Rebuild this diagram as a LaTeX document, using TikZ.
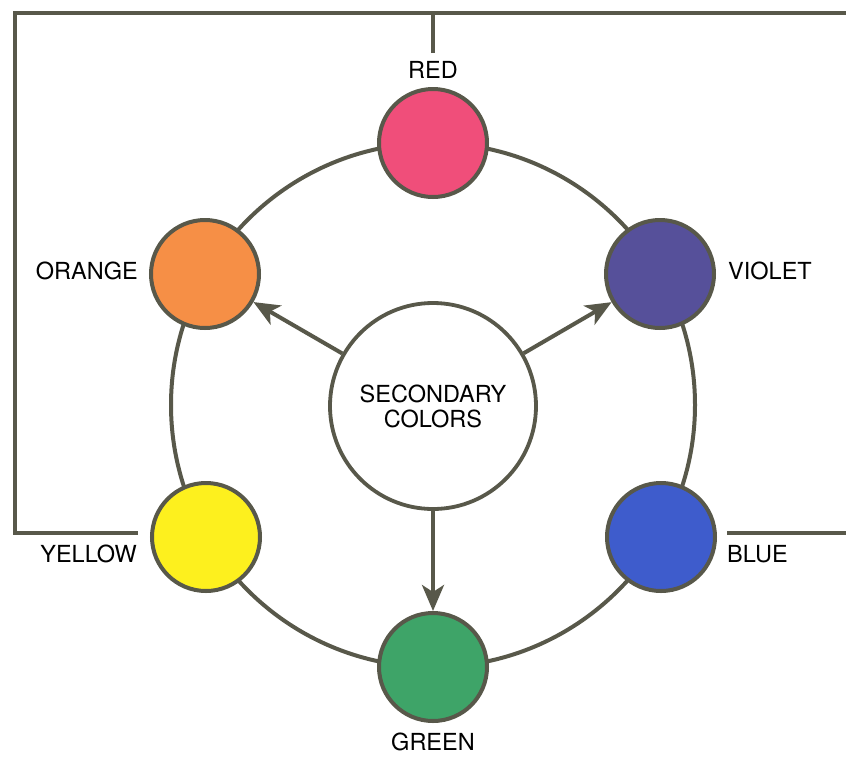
\documentclass[tikz,border=0pt]{standalone}
\usepackage{fontspec}
\setmainfont{TeX Gyre Heros}
\usetikzlibrary{arrows.meta,positioning}
\definecolor{linegray}{RGB}{88,88,74}
\definecolor{cred}{RGB}{240,78,122}
\definecolor{corange}{RGB}{246,143,70}
\definecolor{cviolet}{RGB}{86,80,154}
\definecolor{cblue}{RGB}{62,92,204}
\definecolor{cyellow}{RGB}{253,240,30}
\definecolor{cgreen}{RGB}{62,164,104}
\begin{document}
\begin{tikzpicture}[x=1pt,y=-1pt,
  ball/.style={circle,draw=linegray,line width=4pt,minimum size=108pt,inner sep=0pt},
  lbl/.style={inner sep=0pt,font=\fontsize{23.5}{26}\selectfont},
  frame/.style={draw=linegray,line width=4.5pt},
  arr/.style={draw=linegray,line width=4pt,-{Stealth[length=26pt,width=22pt,inset=7pt]}}]
  \useasboundingbox (0,0) rectangle (846,756);
  % 色相環 (半径262)
  \draw[linegray,line width=4pt] (433,405) circle[radius=262];
  % 中央の円
  \node[circle,draw=linegray,line width=3.8pt,fill=white,minimum size=206pt,inner sep=0pt,
        align=center,font=\fontsize{23.5}{25}\selectfont] (sec) at (433,406) {SECONDARY\\COLORS};
  % 六つの色
  \foreach \nm/\px/\py/\col in {red/433/143/cred, vio/660/274/cviolet, blu/661/537/cblue,
                                grn/433/667/cgreen, yel/206/537/cyellow, org/205/274/corange}
    \node[ball,fill=\col] (\nm) at (\px,\py) {};
  % ラベル
  \node[lbl,above=8pt of red] (redlab) {RED};
  \node[lbl,left=11pt of org,yshift=3pt] (orglab) {ORANGE};
  \node[lbl,right=12pt of vio,yshift=3pt] (violab) {VIOLET};
  \node[lbl,below=10pt of grn] (grnlab) {GREEN};
  \node[lbl,anchor=north east] (yellab) at (137,545) {YELLOW};
  \node[lbl,anchor=north west] (blulab) at (727,545) {BLUE};
  % 外枠
  \coordinate (stub) at (433,53);
  \coordinate (tl) at (15,13);
  \coordinate (tr) at (846,13);
  \coordinate (bl) at (15,533);
  \coordinate (yend) at (138,533);
  \coordinate (bstart) at (727,533);
  \coordinate (br) at (846,533);
  \draw[frame] (stub) -- (stub |- tl);
  \draw[frame] (tr) -- (tl) -- (bl) -- (yend);
  \draw[frame] (bstart) -- (br);
  % 矢印
  \draw[arr] (sec) -- (org);
  \draw[arr] (sec) -- (vio);
  \draw[arr] (sec) -- (grn);
\end{tikzpicture}
\end{document}
